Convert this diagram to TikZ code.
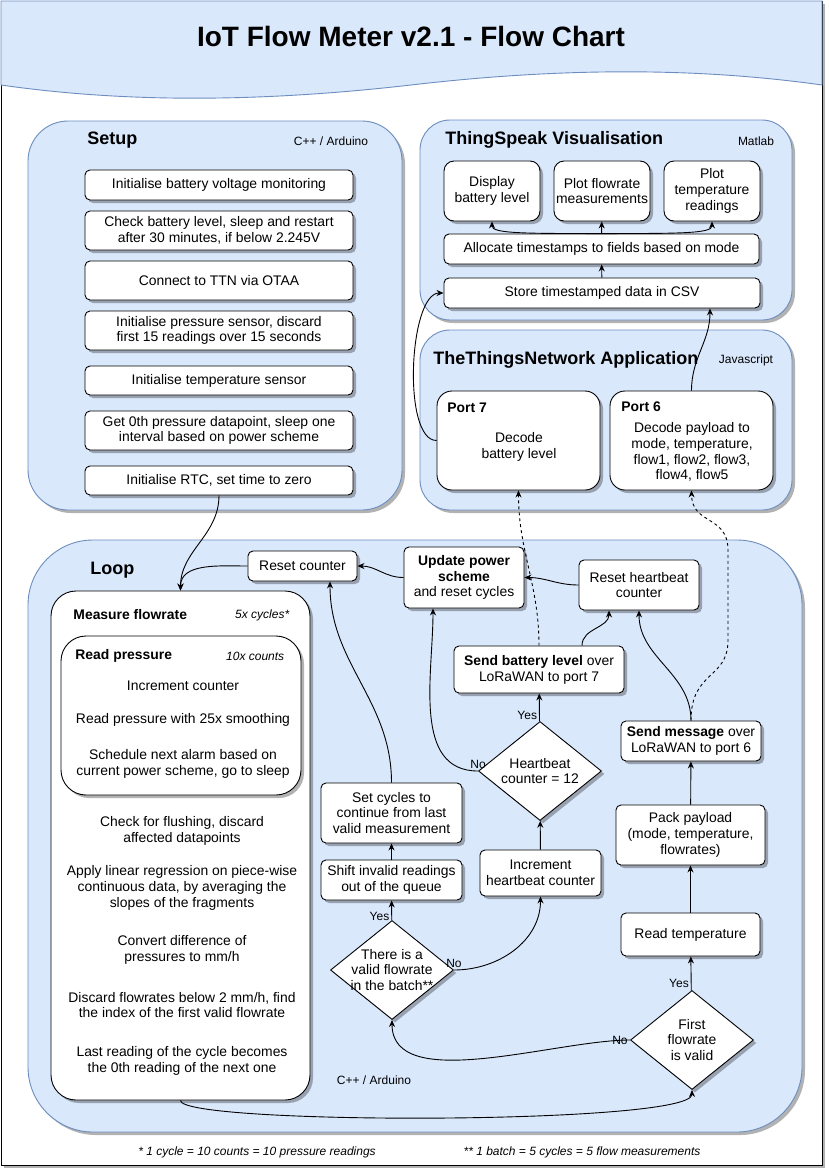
\documentclass[tikz,border=0pt]{standalone}
\usepackage{fontspec}
\setmainfont{Liberation Sans}
\usepackage{tikz}
\usetikzlibrary{shapes.geometric,arrows.meta,shadows}
\definecolor{panelfill}{HTML}{DAE8FC}
\definecolor{panelline}{HTML}{6C8EBF}
\newcommand{\boxfont}{\fontsize{13.9}{15.8}\selectfont}
\newcommand{\notefont}{\fontsize{12}{14}\selectfont}
\newcommand{\headfont}{\fontsize{18}{20}\selectfont\bfseries}

\begin{document}
\begin{tikzpicture}[x=1pt, y=-1pt, line width=0.9pt, >={Stealth[length=7pt,width=6pt]},
    shade/.style={drop shadow={shadow xshift=3pt, shadow yshift=-3pt, opacity=0.3, fill=black}},
    panel/.style={draw=panelline, fill=panelfill, shade, inner sep=0pt},
    box/.style={draw, fill=white, rounded corners=5pt, align=center, inner sep=0pt, shade, font=\boxfont},
    setupbox/.style={box, minimum width=268pt},
    plotbox/.style={box, rounded corners=10pt, minimum width=96pt, minimum height=60pt},
    choice/.style={diamond, draw, fill=white, inner sep=0pt, shade, minimum width=123pt, minimum height=99pt},
    txt/.style={align=center, font=\boxfont},
    note/.style={font=\notefont},
    foot/.style={font=\notefont\itshape},
    lbl/.style={font=\notefont, inner sep=2pt},
    head/.style={anchor=west, inner sep=0pt, font=\headfont},
    sub/.style={anchor=west, inner sep=0pt, font=\boxfont\bfseries}]
  \useasboundingbox (0,0) rectangle (828,1170);
  \draw[fill=white, shade] (1,1) rectangle (822,1165);
  \draw[draw=panelline, fill=panelfill] (1,1) -- (822,1) -- (822,85)
    .. controls (680,65) and (540,70) .. (411,85)
    .. controls (280,100) and (140,105) .. (1,85) -- cycle;
  \node[font=\fontsize{28}{32}\selectfont\bfseries] (title) at (411,36) {IoT Flow Meter v2.1 - Flow Chart};

  \node[panel, rounded corners=40pt, minimum width=374pt, minimum height=389pt] (setup) at (215,315.5) {};
  \node[panel, rounded corners=30pt, minimum width=372pt, minimum height=200pt] (speak) at (606,220) {};
  \node[panel, rounded corners=30pt, minimum width=372pt, minimum height=180pt] (ttnapp) at (606,420) {};
  \node[panel, rounded corners=65pt, minimum width=774pt, minimum height=592pt] (loop) at (415,836) {};

  \node[head] (setuphead) at (87,140) {Setup};
  \node[note] (setuplang) at (331,141) {C++ / Arduino};
  \node[head] (speakhead) at (445,140) {ThingSpeak Visualisation};
  \node[note] (speaklang) at (756,141) {Matlab};
  \node[head] (ttnhead) at (433,360) {TheThingsNetwork Application};
  \node[note] (ttnlang) at (746,360) {Javascript};
  \node[head] (loophead) at (90,570) {Loop};
  \node[note] (looplang) at (374,1080) {C++ / Arduino};

  \node[setupbox, minimum height=30pt] (batmon) at (219,185) {Initialise battery voltage monitoring};
  \node[setupbox, minimum height=39pt] (batchk) at (219,230.5) {Check battery level, sleep and restart\\after 30 minutes, if below 2.245V};
  \node[setupbox, minimum height=39pt] (join) at (219,280.5) {Connect to TTN via OTAA};
  \node[setupbox, minimum height=39pt] (pinit) at (219,330.5) {Initialise pressure sensor, discard\\first 15 readings over 15 seconds};
  \node[setupbox, minimum height=29pt] (tinit) at (219,380.5) {Initialise temperature sensor};
  \node[setupbox, minimum height=39pt] (zero) at (219,430.5) {Get 0th pressure datapoint, sleep one\\interval based on power scheme};
  \node[setupbox, minimum height=29pt] (rtc) at (219,480.5) {Initialise RTC, set time to zero};

  \node[plotbox] (disp) at (492,191) {Display\\battery level};
  \node[plotbox] (plotf) at (602,191) {Plot flowrate\\measurements};
  \node[plotbox] (plott) at (712,191) {Plot\\temperature\\readings};
  \node[box, minimum width=315pt, minimum height=30pt] (alloc) at (601.5,249) {Allocate timestamps to fields based on mode};
  \node[box, minimum width=316pt, minimum height=30pt] (store) at (602,293) {Store timestamped data in CSV};

  \node[box, rounded corners=15pt, minimum width=163pt, minimum height=99pt] (port7) at (518.5,440.5) {};
  \node[sub] (port7head) at (447,408) {Port 7};
  \node[txt] (port7txt) at (519,447) {Decode\\battery level};
  \node[box, rounded corners=15pt, minimum width=163pt, minimum height=99pt] (port6) at (691.5,440.5) {};
  \node[sub] (port6head) at (621,407) {Port 6};
  \node[txt] (port6txt) at (692,452) {Decode payload to\\mode, temperature,\\flow1, flow2, flow3,\\flow4, flow5};

  \node[box, rounded corners=25pt, minimum width=259pt, minimum height=509pt] (measure) at (180.5,845.5) {};
  \node[sub] (measurehead) at (73,615) {Measure flowrate};
  \node[foot, anchor=east] (measurerep) at (293,615) {5x cycles*};
  \node[box, rounded corners=25pt, minimum width=240pt, minimum height=159pt] (readp) at (181,715.5) {};
  \node[sub] (readphead) at (75,656) {Read pressure};
  \node[foot, anchor=east] (readprep) at (288,656) {10x counts};
  \node[txt] (inccnt) at (183,686) {Increment counter};
  \node[txt] (smooth) at (183,720) {Read pressure with 25x smoothing};
  \node[txt] (alarm) at (183,764) {Schedule next alarm based on\\current power scheme, go to sleep};
  \node[txt] (flush) at (182,831) {Check for flushing, discard\\affected datapoints};
  \node[txt] (regress) at (182,888) {Apply linear regression on piece-wise\\continuous data, by averaging the\\slopes of the fragments};
  \node[txt] (convert) at (182,949.5) {Convert difference of\\pressures to mm/h};
  \node[txt] (discard) at (182,1005) {Discard flowrates below 2 mm/h, find\\the index of the first valid flowrate};
  \node[txt] (carry) at (182,1060.5) {Last reading of the cycle becomes\\the 0th reading of the next one};

  \node[box, minimum width=109pt, minimum height=30pt] (rstcnt) at (302.5,566) {Reset counter};
  \node[box, minimum width=120pt, minimum height=61pt] (power) at (464,577.5) {\textbf{Update power}\\\textbf{scheme}\\and reset cycles};
  \node[box, minimum width=120pt, minimum height=50pt] (rsthb) at (639,585) {Reset heartbeat\\counter};
  \node[box, minimum width=170pt, minimum height=47pt] (sendbat) at (539,669.5) {\textbf{Send battery level} over\\LoRaWAN to port 7};
  \node[choice, label={[txt]center:{Heartbeat\\counter = 12}}] (hbeat) at (540,771) {};
  \node[box, minimum width=140pt, minimum height=40pt] (sendmsg) at (691,741) {\textbf{Send message} over\\LoRaWAN to port 6};
  \node[box, minimum width=149pt, minimum height=60pt] (pack) at (690.5,835) {Pack payload\\(mode, temperature,\\flowrates)};
  \node[box, minimum width=139pt, minimum height=43pt] (readt) at (690.5,934.5) {Read temperature};
  \node[choice, label={[txt]center:{First\\flowrate\\is valid}}] (first) at (692,1040) {};
  \node[box, minimum width=121pt, minimum height=46pt] (inchb) at (540.5,873) {Increment\\heartbeat counter};
  \node[box, minimum width=141pt, minimum height=60pt] (setcyc) at (391.5,813) {Set cycles to\\continue from last\\valid measurement};
  \node[box, minimum width=141pt, minimum height=40pt] (shift) at (391.5,880) {Shift invalid readings\\out of the queue};
  \node[choice, label={[txt]center:{There is a\\valid flowrate\\in the batch**}}] (valid) at (392,970) {};

  \node[foot] (fn1) at (257,1152) {* 1 cycle = 10 counts = 10 pressure readings};
  \node[foot] (fn2) at (582,1152) {** 1 batch = 5 cycles = 5 flow measurements};

  \path[->]
  (store) edge (alloc)
  (alloc) edge (plotf)
  (port7) edge[out=180, in=180, looseness=0.6] (store)
  (port6) edge[out=90, in=-90] ([xshift=108pt]store.south)
  (rtc) edge[out=-90, in=90] (measure)
  (rstcnt) edge[out=180, in=90] (measure)
  (power) edge[out=180, in=0] (rstcnt)
  (rsthb) edge[out=180, in=0] (power)
  ([xshift=43pt]sendbat.north) edge[out=90, in=-90] ([xshift=-30pt]rsthb.south)
  (sendmsg) edge[out=90, in=-90] (rsthb)
  (sendbat) edge[dashed, out=90, in=-90] (port7)
  (hbeat) edge node[lbl, pos=0.2, left] {Yes} (sendbat)
  (hbeat) edge[out=180, in=-90] node[lbl, at start, above] {No} ([xshift=-31pt]power.south)
  (inchb) edge (hbeat)
  (valid) edge[out=0, in=-90] node[lbl, at start, above] {No} (inchb)
  (valid) edge node[lbl, pos=0.2, left] {Yes} (shift)
  (shift) edge (setcyc)
  (setcyc) edge[out=90, in=-90] ([xshift=27.5pt]rstcnt.south)
  (first) edge[out=180, in=-90, looseness=0.8] node[lbl, at start, left] {No} (valid)
  (first) edge node[lbl, pos=0.2, left] {Yes} (readt)
  (readt) edge (pack)
  (pack) edge (sendmsg);
  \draw[->] (alloc.north) .. controls +(-80,0) and +(0,12) .. (disp.south);
  \draw[->] (alloc.north) .. controls +(80,0) and +(0,12) .. (plott.south);
  \draw[->] (measure.south) .. controls (180,1125) and (692,1125) .. (first.south);
  \draw[->, dashed] (sendmsg.north) .. controls (691,670) and (728,680) .. (728,640)
    -- (728,550) .. controls (728,515) and (692,525) .. (port6.south);
\end{tikzpicture}
\end{document}
